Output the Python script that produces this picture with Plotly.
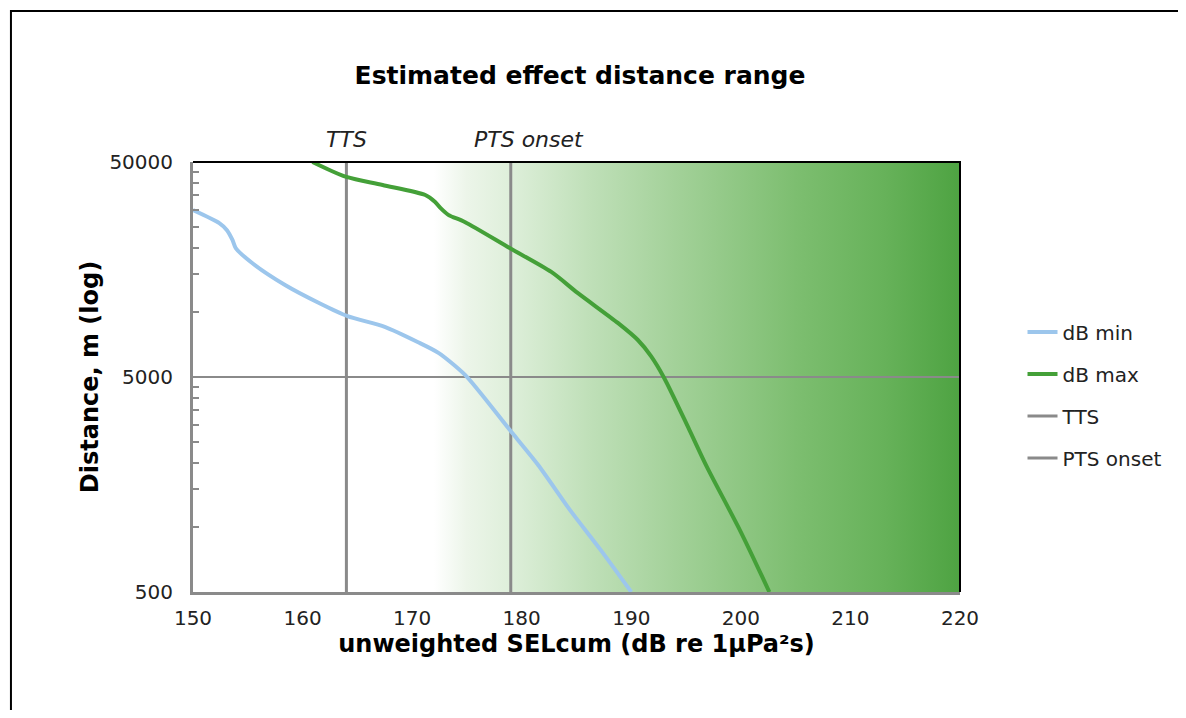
import plotly.graph_objects as go

# ---- data ----
x_min = [150, 152.4, 153.1, 153.6, 153.9, 155.4, 158.4, 161.5, 164.1, 167.5, 170.5, 172.4, 174.85, 178.9, 181.5, 184.5, 187.2, 190]
d_min = [29900, 26000, 24100, 21700, 19900, 16950, 13400, 11050, 9600, 8550, 7270, 6470, 5100, 2840, 1950, 1185, 785, 500]

x_max = [160.9, 164.0, 167.3, 171.2, 172.1, 172.6, 173.3, 174.8, 178.9, 182.7, 185.1, 188.8, 190.6, 191.8, 193.0, 195.3, 196.9, 200.0, 202.6]
d_max = [50000, 42600, 39100, 35100, 32600, 30500, 28400, 26300, 19900, 15400, 12300, 8900, 7430, 6250, 4950, 2840, 1910, 950, 500]

tts_x = 164
pts_x = 179

x_ticks = [150, 160, 170, 180, 190, 200, 210, 220]
y_ticks = [500, 5000, 50000]
y_minor_ticks = [1000, 1500, 2000, 2500, 3000, 3500, 4000, 4500,
                 10000, 15000, 20000, 25000, 30000, 35000, 40000, 45000]

# background effect gradient stops (dB -> colour)
grad_x = [172, 175, 179, 186, 194, 205, 213, 220]
grad_colors = ["rgb(255,255,255)", "rgb(236,245,233)", "rgb(222,239,218)", "rgb(192,224,185)",
               "rgb(163,209,153)", "rgb(125,190,112)", "rgb(103,178,90)", "rgb(78,163,66)"]

X_RANGE = [150, 220]
Y_RANGE = [500, 50000]

FONT = "DejaVu Sans"
GRAY = "#8a8a8a"

fig = go.Figure()

g0, g1 = grad_x[0], grad_x[-1]
colorscale = [[(gx - g0) / (g1 - g0), c] for gx, c in zip(grad_x, grad_colors)]
fig.add_trace(go.Scatter(
    x=[g0, g1, g1, g0, g0],
    y=[Y_RANGE[0], Y_RANGE[0], Y_RANGE[1], Y_RANGE[1], Y_RANGE[0]],
    mode="lines", line=dict(width=0), fill="toself",
    fillgradient=dict(type="horizontal", colorscale=colorscale, start=g0, stop=g1),
    showlegend=False, hoverinfo="skip",
))

# major gridline at the middle tick, drawn over the background gradient
fig.add_trace(go.Scatter(
    x=X_RANGE, y=[y_ticks[1], y_ticks[1]], mode="lines",
    line=dict(color=GRAY, width=2), showlegend=False, hoverinfo="skip",
))

fig.add_trace(go.Scatter(
    x=[tts_x, tts_x], y=Y_RANGE, mode="lines", name="TTS",
    line=dict(color=GRAY, width=3), legendgroup="c", legendrank=3,
))
fig.add_trace(go.Scatter(
    x=[pts_x, pts_x], y=Y_RANGE, mode="lines", name="PTS onset",
    line=dict(color=GRAY, width=3), legendgroup="d", legendrank=4,
))
fig.add_trace(go.Scatter(
    x=x_min, y=d_min, mode="lines", name="dB min",
    line=dict(color="#9cc6ec", width=4, shape="spline", smoothing=0.7),
    legendgroup="a", legendrank=1,
))
fig.add_trace(go.Scatter(
    x=x_max, y=d_max, mode="lines", name="dB max",
    line=dict(color="#44a038", width=4, shape="spline", smoothing=0.8),
    legendgroup="b", legendrank=2,
))

W, H = 1170, 702
fig.update_layout(
    width=W, height=H,
    margin=dict(l=185, r=W - 956, t=154, b=H - 584),
    paper_bgcolor="white", plot_bgcolor="white",
    font=dict(family=FONT, size=20, color="#222"),
    title=dict(text="<b>Estimated effect distance range</b>", x=572 / W, xanchor="center",
               y=1 - 67 / H, yanchor="middle", xref="container", yref="container",
               font=dict(family=FONT, size=25, color="black")),
    xaxis=dict(range=X_RANGE, tickvals=x_ticks, showgrid=False, zeroline=False,
               showline=True, linecolor=GRAY, linewidth=3, ticks="",
               ticklabelstandoff=6,
               title=dict(text="<b>unweighted SELcum (dB re 1µPa²s)</b>", standoff=0,
                          font=dict(size=24, color="black")),
               tickfont=dict(size=20, color="#222")),
    yaxis=dict(type="log", range=[2.69897, 4.69897], tickvals=y_ticks,
               ticktext=[str(v) for v in y_ticks],
               showgrid=False, zeroline=False,
               showline=True, linecolor=GRAY, linewidth=3, ticks="",
               ticklabelstandoff=13,
               minor=dict(tickmode="array", tickvals=y_minor_ticks, ticks="inside",
                          ticklen=6, tickwidth=2, tickcolor=GRAY, showgrid=False),
               title=dict(text="<b>Distance, m (log)</b>", standoff=4,
                          font=dict(size=24, color="black")),
               tickfont=dict(size=20, color="#222")),
    legend=dict(x=1.0815, xanchor="left", y=0.458, yanchor="middle",
                traceorder="grouped", tracegroupgap=13,
                font=dict(size=20, color="#222"), bgcolor="rgba(0,0,0,0)"),
    shapes=[
        dict(type="path", xref="paper", yref="paper", path="M 0,1 L 1,1 L 1,0",
             line=dict(color="black", width=2), layer="above"),
        dict(type="rect", xref="paper", yref="paper",
             x0=(10 - 193) / 771, x1=(1200 - 193) / 771,
             y0=(592 - 730) / 430, y1=(592 - 11) / 430,
             line=dict(color="black", width=2), layer="below"),
    ],
    annotations=[
        dict(x=tts_x, y=1, xref="x", yref="paper", yanchor="bottom", yshift=8,
             text="<i>TTS</i>", showarrow=False, font=dict(size=22, color="#222")),
        dict(x=pts_x, y=1, xref="x", yref="paper", yanchor="bottom", yshift=8, xshift=18,
             text="<i>PTS onset</i>", showarrow=False, font=dict(size=22, color="#222")),
    ],
)

fig.write_html("out.html")
